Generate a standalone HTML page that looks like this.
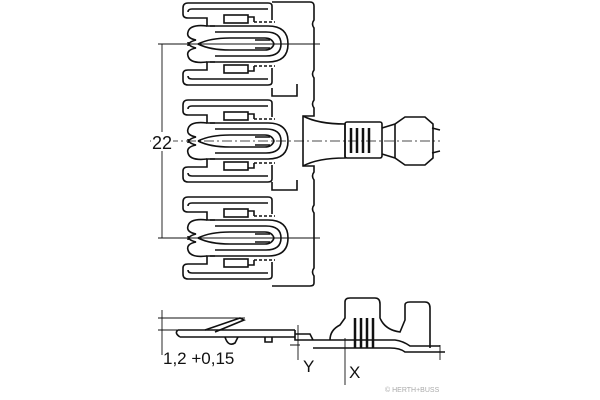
<!DOCTYPE html>
<html><head><style>body{margin:0;background:#fff}svg{display:block}</style></head><body>
<svg width="600" height="400" viewBox="0 0 600 400" xmlns="http://www.w3.org/2000/svg" font-family="Liberation Sans, sans-serif">
<defs>
<g id="grp" fill="none" stroke="#111" stroke-width="1.6">
  <path d="M272 -24 V-38 Q272 -41 268 -41 H188 Q183 -41 183 -36 V-30 Q183 -26 188 -26 H207 V-18 H215"/>
  <path d="M188 -32 Q188 -35 192 -35 H268"/>
  <path d="M272 24 V38 Q272 41 268 41 H188 Q183 41 183 36 V30 Q183 26 188 26 H207 V18 H215"/>
  <path d="M188 32 Q188 35 192 35 H268"/>
  <rect x="224" y="-29" width="24" height="8"/>
  <rect x="224" y="21" width="24" height="8"/>
  <path d="M248 -27 H254 V-22 M248 27 H254 V22"/>
  <path d="M254 -22 H275 M254 22 H275" stroke-dasharray="3 2"/>
  <path d="M210 -18 H268 Q288 -18 288 0 Q288 18 268 18 H210"/>
  <path d="M215 -12 H266 Q281 -12 281 0 Q281 12 266 12 H215"/>
  <path d="M198 0 Q210 -6 230 -6 H265 Q272 -6 274 0 Q272 6 265 6 H230 Q210 6 198 0"/>
  <path d="M255 -4 H270 M255 4 H270"/>
  <path d="M207 -18 Q190 -20 188 -12 Q186 -6 196 -4 Q188 -2 188 2"/>
  <path d="M207 18 Q190 20 188 12 Q186 6 196 4 Q188 2 188 -2"/>
</g>
</defs>
<g stroke="#111" fill="none" stroke-width="1.6">
<use href="#grp" transform="translate(0,44)"/>
<use href="#grp" transform="translate(0,141)"/>
<use href="#grp" transform="translate(0,238)"/>
<path d="M272 2 H310 Q314 2 314 6 V20 Q311 24 314 28 V70 Q311 74 314 78 V100 Q311 104 314 108 V116 H303 V166 H314 V172 Q311 176 314 180 V205 Q311 209 314 213 V268 Q311 272 314 276 V283 Q314 286 310 286 H272"/>
<path d="M272 88 V96 H297 V84"/>
<path d="M272 182 V190 H297 V180"/>
<path d="M303 116 Q318 124 345 124 V158 Q318 158 303 166"/>
<rect x="345" y="122" width="37" height="36" rx="2"/>
<path d="M351 128 V153 M357 128 V153 M363 128 V153 M369 128 V153" stroke-width="2.5"/>
<path d="M382 128 L395 124 L405 117 H425 L433 124 V158 L425 165 H405 L395 158 L382 154"/>
<path d="M395 124 V158"/>
<path d="M432 128 L440 130 M432 153 L440 151"/>
<path d="M162 44 V238 M158 44 H320 M158 238 H320" stroke-width="0.9"/>
<path d="M150 141 H440" stroke-width="0.8" stroke-dasharray="10 3 2 3"/>
<path d="M162 310 V355 M158 318 H245 M158 330 H178" stroke-width="0.9"/>
<path d="M178 330 H295 M180 337 H295 M178 330 Q174 333 180 337"/>
<path d="M205 330 L240 318 L244 320 L215 332"/>
<path d="M225 337 Q228 347 235 343 L238 337 M265 337 V342 H272 V337"/>
<path d="M295 330 V340 H313 L310 334 H295 M313 340 H345"/>
<path d="M330 340 Q330 330 340 325 L345 318 V302 Q345 298 350 298 H375 Q380 298 380 304 V318 Q385 330 400 332 L405 320 V305 Q405 302 410 302 H425 Q430 302 430 308 V348"/>
<path d="M355 318 V348 M361 318 V348 M367 318 V348 M373 318 V348" stroke-width="2.5"/>
<path d="M313 348 H390 Q400 348 405 352 H445 M345 340 H395 Q403 341 410 346 H440"/>
<path d="M298 325 V360 M345 338 V385 M440 345 V360 M290 345 H300 M340 348 H350" stroke-width="0.9"/>
</g>
<rect x="151" y="132" width="22" height="19" fill="#fff"/>
<text x="162" y="149" font-size="18" fill="#111" text-anchor="middle">22</text>
<text x="163" y="364" font-size="17" fill="#111">1,2 +0,15</text>
<text x="303" y="372" font-size="17" fill="#111">Y</text>
<text x="349" y="378" font-size="17" fill="#111">X</text>
<text x="385" y="392" font-size="7" fill="#aaa">© HERTH+BUSS</text>
</svg>
</body></html>
